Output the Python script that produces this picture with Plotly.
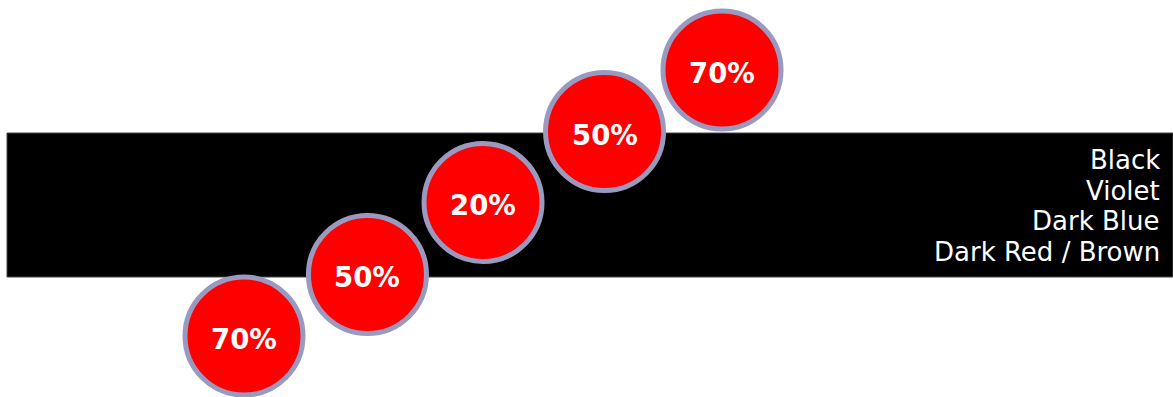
import plotly.graph_objects as go

# Data
labels = ["70%", "50%", "20%", "50%", "70%"]
values = [70, 50, 20, 50, 70]
steps_x = [0, 1.033, 2.0, 3.017, 4.0]
steps_y = [0, 0.925, 2.008, 3.075, 4.0]
legend_lines = ["Black", "Violet", "Dark Blue", "Dark Red / Brown"]

W, H = 1173, 397
px_per_x = 119.5
px_per_y = 66.5
x0_px = 244      # pixel of first circle center
y0_px_from_bottom = H - 336

xr = [-x0_px / px_per_x, -x0_px / px_per_x + W / px_per_x]
yr = [-y0_px_from_bottom / px_per_y, -y0_px_from_bottom / px_per_y + H / px_per_y]

fig = go.Figure()
fig.add_trace(go.Scatter(
    x=steps_x, y=steps_y, mode="markers",
    customdata=values,
    marker=dict(size=118, color="#ff0000", line=dict(color="#9a9ac0", width=5)),
    hoverinfo="skip", showlegend=False, cliponaxis=False,
))

for xv, yv, lab in zip(steps_x, steps_y, labels):
    fig.add_annotation(x=xv, y=yv, xref="x", yref="y", text=lab, showarrow=False,
                       xanchor="center", yanchor="middle", yshift=-3,
                       font=dict(family="DejaVu Sans", size=27.5, color="white", weight="bold"))

fig.add_shape(type="rect", xref="paper", yref="paper",
              x0=7 / W, x1=1.0, y0=120 / H, y1=264 / H,
              fillcolor="black", line=dict(color="#444444", width=1), layer="below")

line_centers = [160, 191, 221, 252]
for txt, yc in zip(legend_lines, line_centers):
    fig.add_annotation(x=1162 / W, y=1 - yc / H, xref="paper", yref="paper",
                       text=txt, showarrow=False, xanchor="right", yanchor="middle",
                       font=dict(family="DejaVu Sans", size=26, color="white"))

fig.update_layout(
    width=W, height=H, margin=dict(l=0, r=0, t=0, b=0),
    paper_bgcolor="white", plot_bgcolor="white",
    xaxis=dict(range=xr, visible=False, fixedrange=True),
    yaxis=dict(range=yr, visible=False, fixedrange=True),
)
fig.write_html("out.html", config={"displayModeBar": False},
               post_script="document.body.style.margin='0';document.body.style.overflow='hidden';")
